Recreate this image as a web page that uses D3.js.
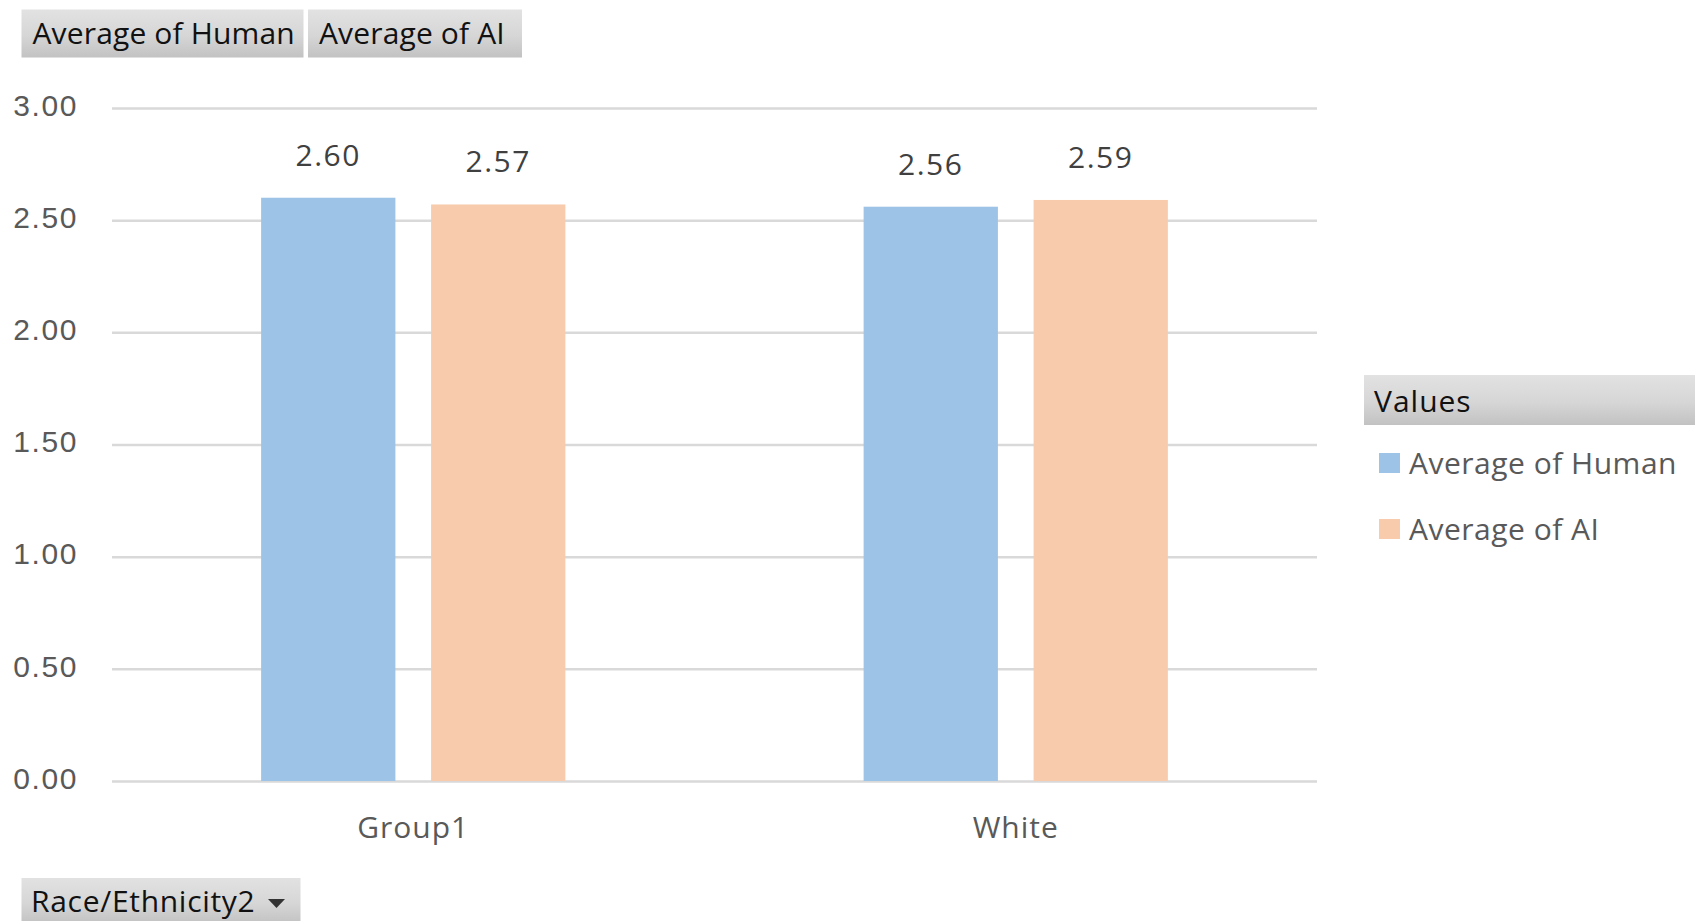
<!DOCTYPE html>
<html>
<head>
<meta charset="utf-8">
<script src="https://cdn.jsdelivr.net/npm/d3@7"></script>
<style>
  html, body { margin: 0; padding: 0; background: #fff; }
  svg { display: block; font-family: "Open Sans", "Noto Sans", sans-serif; }
</style>
</head>
<body>
<svg id="chart" width="1695" height="921"></svg>
<script>
const categories = ["Group1", "White"];
const seriesNames = ["Average of Human", "Average of AI"];
const humanValues = [2.60, 2.56];
const aiValues = [2.57, 2.59];
const yTicks = [0, 0.5, 1.0, 1.5, 2.0, 2.5, 3.0];
const colors = ["#9dc3e6", "#f8cbad"];
const axisFieldLabel = "Race/Ethnicity2";
const legendTitle = "Values";

const svg = d3.select("#chart");
const defs = svg.append("defs");
const grad = defs.append("linearGradient").attr("id", "btn").attr("x1", 0).attr("y1", 0).attr("x2", 0).attr("y2", 1);
grad.append("stop").attr("offset", "0%").attr("stop-color", "#e2e2e2");
grad.append("stop").attr("offset", "55%").attr("stop-color", "#d6d6d6");
grad.append("stop").attr("offset", "100%").attr("stop-color", "#c2c2c2");

const plot = { left: 112, right: 1317, top: 108, bottom: 781 };

const y = d3.scaleLinear().domain([0, 3]).range([plot.bottom, plot.top]);
const x0 = d3.scaleBand().domain(categories).range([plot.left, plot.right])
  .paddingInner(0.495).paddingOuter(0.2475);
const x1 = d3.scaleBand().domain(seriesNames).range([0, x0.bandwidth()]).paddingInner(0.21).paddingOuter(0);

const data = categories.map((c, i) => ({ cat: c, vals: [humanValues[i], aiValues[i]] }));

// Gridlines + y labels via axis
const yAxis = d3.axisLeft(y).tickValues(yTicks).tickFormat(d3.format(".2f"))
  .tickSize(-(plot.right - plot.left)).tickPadding(34);
const gy = svg.append("g").attr("transform", `translate(${plot.left},0)`).call(yAxis);
gy.select(".domain").remove();
gy.selectAll(".tick line").attr("stroke", "#d9d9d9").attr("stroke-width", 2.5);
gy.selectAll(".tick text").attr("fill", "#595959").attr("font-size", 30).attr("letter-spacing", 1.6).attr("dy", "0.24em");

// Bars
const groups = svg.append("g").selectAll("g").data(data).join("g")
  .attr("transform", d => `translate(${x0(d.cat)},0)`);
groups.selectAll("rect").data(d => d.vals.map((v, j) => ({ v, s: seriesNames[j], j }))).join("rect")
  .attr("x", d => x1(d.s)).attr("width", x1.bandwidth())
  .attr("y", d => y(d.v)).attr("height", d => y(0) - y(d.v))
  .attr("fill", d => colors[d.j]);
groups.selectAll("text").data(d => d.vals.map((v, j) => ({ v, s: seriesNames[j], j }))).join("text")
  .attr("x", d => x1(d.s) + x1.bandwidth() / 2).attr("y", d => y(d.v) - 32)
  .attr("text-anchor", "middle").attr("font-size", 30).attr("letter-spacing", 1.5).attr("fill", "#404040")
  .text(d => d3.format(".2f")(d.v));

// X axis labels
const xAxis = d3.axisBottom(x0).tickSize(0).tickPadding(36);
const gx = svg.append("g").attr("transform", `translate(0,${plot.bottom})`).call(xAxis);
gx.select(".domain").remove();
gx.selectAll(".tick text").attr("fill", "#595959").attr("font-size", 30).attr("letter-spacing", 1)
  .attr("font-family", "Open Sans, sans-serif");

// Header field buttons
const headerButtons = [{ label: seriesNames[0], x: 21.5, w: 282 }, { label: seriesNames[1], x: 308, w: 214 }];
const hb = svg.append("g").selectAll("g").data(headerButtons).join("g");
hb.append("rect").attr("x", d => d.x).attr("y", 9.5).attr("width", d => d.w).attr("height", 48).attr("fill", "url(#btn)");
hb.append("text").attr("x", d => d.x + 11).attr("y", 44).attr("font-size", 30).attr("fill", "#111")
  .attr("letter-spacing", 0.15).text(d => d.label);

// Bottom axis field button
const bb = svg.append("g");
bb.append("rect").attr("x", 21.5).attr("y", 878).attr("width", 279).attr("height", 46).attr("fill", "url(#btn)");
bb.append("text").attr("x", 31).attr("y", 912).attr("font-size", 30).attr("fill", "#111").attr("letter-spacing", 0.7).text(axisFieldLabel);
bb.append("path").attr("d", "M268,899 L285,899 L276.5,908 Z").attr("fill", "#333");

// Legend
const lg = svg.append("g");
lg.append("rect").attr("x", 1364).attr("y", 375).attr("width", 331).attr("height", 50).attr("fill", "url(#btn)");
lg.append("text").attr("x", 1374).attr("y", 412).attr("font-size", 30).attr("fill", "#111").attr("letter-spacing", 1).text(legendTitle);
const items = lg.selectAll("g.item").data(seriesNames).join("g").attr("class", "item")
  .attr("transform", (d, i) => `translate(1379,${463 + i * 66})`);
items.append("rect").attr("x", 0).attr("y", -10).attr("width", 21).attr("height", 20).attr("fill", (d, i) => colors[i]);
items.append("text").attr("x", 30).attr("y", 0).attr("dy", "0.35em").attr("font-size", 30).attr("letter-spacing", 0.5)
  .attr("fill", "#595959").text(d => d);
</script>
</body>
</html>
